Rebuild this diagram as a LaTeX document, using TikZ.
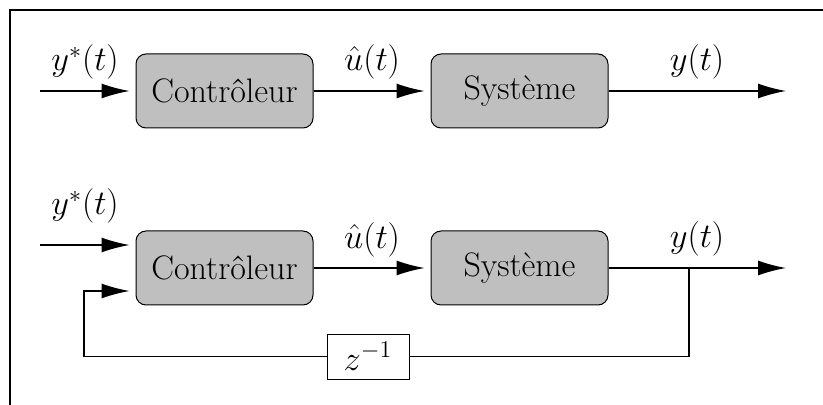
\documentclass[tikz,border=0pt]{standalone}
\usetikzlibrary{arrows.meta}
\begin{document}
\begin{tikzpicture}
	[x=0.5pt,y=-0.5pt,
	 font=\fontsize{17}{20}\selectfont,
	 bloc/.style={draw,line width=0.5pt,rounded corners=5pt,fill=black!25,minimum width=88.5pt,minimum height=37pt,inner sep=0pt},
	 retard/.style={draw,line width=0.5pt,fill=white,minimum width=41pt,minimum height=22.5pt,inner sep=0pt},
	 ligne/.style={line width=0.7pt},
	 fleche/.style={ligne,-{Latex[length=14pt,width=7.5pt]}}]
	\useasboundingbox (0,0) rectangle (823,405);
	\draw[line width=0.8pt] (10,405) -- (10,10) -- (823,10);

	% boucle ouverte
	\node[bloc] (C1) at (224.5,91) {Contr\^oleur};
	\node[bloc] (S1) at (519.5,91) {Syst\`eme};
	\coordinate (e1) at (40,91);
	\coordinate (s1) at (786,91);
	\node (ye1) at (85,62) {$y^*(t)$};
	\node (u1) at (372,62) {$\hat{u}(t)$};
	\node (ys1) at (697,62) {$y(t)$};

	\draw[fleche,shorten >=3pt] (e1) -- (C1);
	\draw[fleche,shorten >=3pt] (C1) -- (S1);
	\draw[fleche] (S1) -- (s1);

	% boucle fermee
	\node[bloc] (C2) at (224.5,268) {Contr\^oleur};
	\node[bloc] (S2) at (519.5,268) {Syst\`eme};
	\node[retard] (R) at (368,356.5) {$z^{-1}$};
	\coordinate (e2) at (40,245);
	\coordinate (s2) at (786,268);
	\coordinate (b2) at (689,268);
	\coordinate (r2) at (84,291);
	\node (ye2) at (85,206) {$y^*(t)$};
	\node (u2) at (372,240) {$\hat{u}(t)$};
	\node (ys2) at (697,239) {$y(t)$};

	\draw[fleche,shorten >=3pt] (e2) -- (e2 -| C2.west);
	\draw[fleche,shorten >=3pt] (C2) -- (S2);
	\draw[fleche] (S2) -- (s2);
	\draw[ligne] (b2) |- (R);
	\draw[fleche,shorten >=3pt] (R) -| (r2) -- (r2 -| C2.west);
\end{tikzpicture}
\end{document}
